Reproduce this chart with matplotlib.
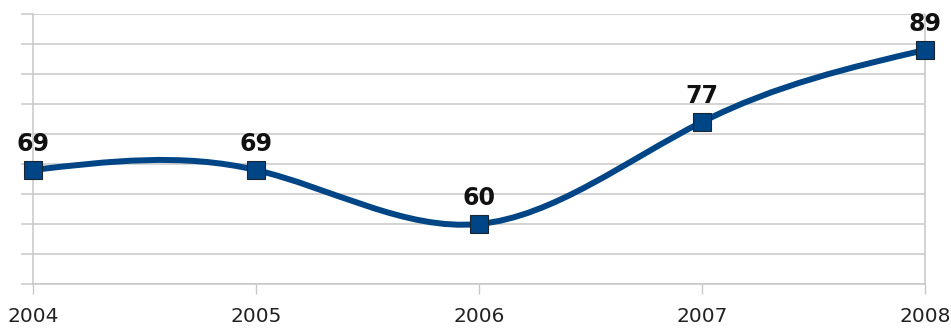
import numpy as np
import matplotlib.pyplot as plt
from matplotlib.path import Path
from matplotlib.patches import PathPatch

years = ['2004', '2005', '2006', '2007', '2008']
values = [69, 69, 60, 77, 89]

blue = '#004586'
grid = '#c8c8c8'

fig = plt.figure(figsize=(9.51, 3.30), dpi=100)
ax = fig.add_axes([33 / 951, 1 - 284 / 330, 892 / 951, 270 / 330])

x = np.arange(len(values), dtype=float)
y = np.array(values, dtype=float)

# natural cubic spline smoothing, drawn as bezier segments
n = len(y) - 1
A = np.zeros((n + 1, n + 1))
b = np.zeros(n + 1)
A[0, 0] = A[n, n] = 1
for i in range(1, n):
    A[i, i - 1], A[i, i], A[i, i + 1] = 1, 4, 1
    b[i] = 6 * (y[i + 1] - 2 * y[i] + y[i - 1])
M = np.linalg.solve(A, b)
m = np.zeros(n + 1)
for i in range(n):
    m[i] = (y[i + 1] - y[i]) - (2 * M[i] + M[i + 1]) / 6
m[n] = (y[n] - y[n - 1]) + (M[n - 1] + 2 * M[n]) / 6

verts = [(x[0], y[0])]
codes = [Path.MOVETO]
for i in range(n):
    verts += [(x[i] + 1 / 3, y[i] + m[i] / 3),
              (x[i + 1] - 1 / 3, y[i + 1] - m[i + 1] / 3),
              (x[i + 1], y[i + 1])]
    codes += [Path.CURVE4] * 3
ax.add_patch(PathPatch(Path(verts, codes), facecolor='none', edgecolor=blue,
                       lw=4.3, capstyle='round', zorder=3))

ax.plot(x, y, ls='none', marker='s', ms=13.5, mfc=blue, mec='#1a2533',
        mew=0.8, zorder=4, clip_on=False)

for xi, yi in zip(x, y):
    ax.annotate(str(int(yi)), (xi, yi), xytext=(0, 10), textcoords='offset points',
                ha='center', va='bottom', fontsize=17, fontweight='bold',
                color='#111111', annotation_clip=False)

ax.set_xlim(0, n)
ax.set_ylim(50, 95)
ax.set_xticks(x)
ax.set_xticklabels(years, fontsize=14.5, color='#222222')
ax.set_yticks(np.arange(50, 96, 5))
ax.set_yticklabels([])
ax.grid(axis='y', color=grid, lw=1.1)
ax.set_axisbelow(True)
ax.tick_params(axis='x', length=7.5, width=1, color=grid, pad=9)
ax.tick_params(axis='y', length=8.5, width=1.1, color=grid)
for s in ['left', 'right', 'bottom']:
    ax.spines[s].set_color(grid)
    ax.spines[s].set_linewidth(1.1)
ax.spines['top'].set_visible(False)

fig.savefig('out.png', dpi=100)
